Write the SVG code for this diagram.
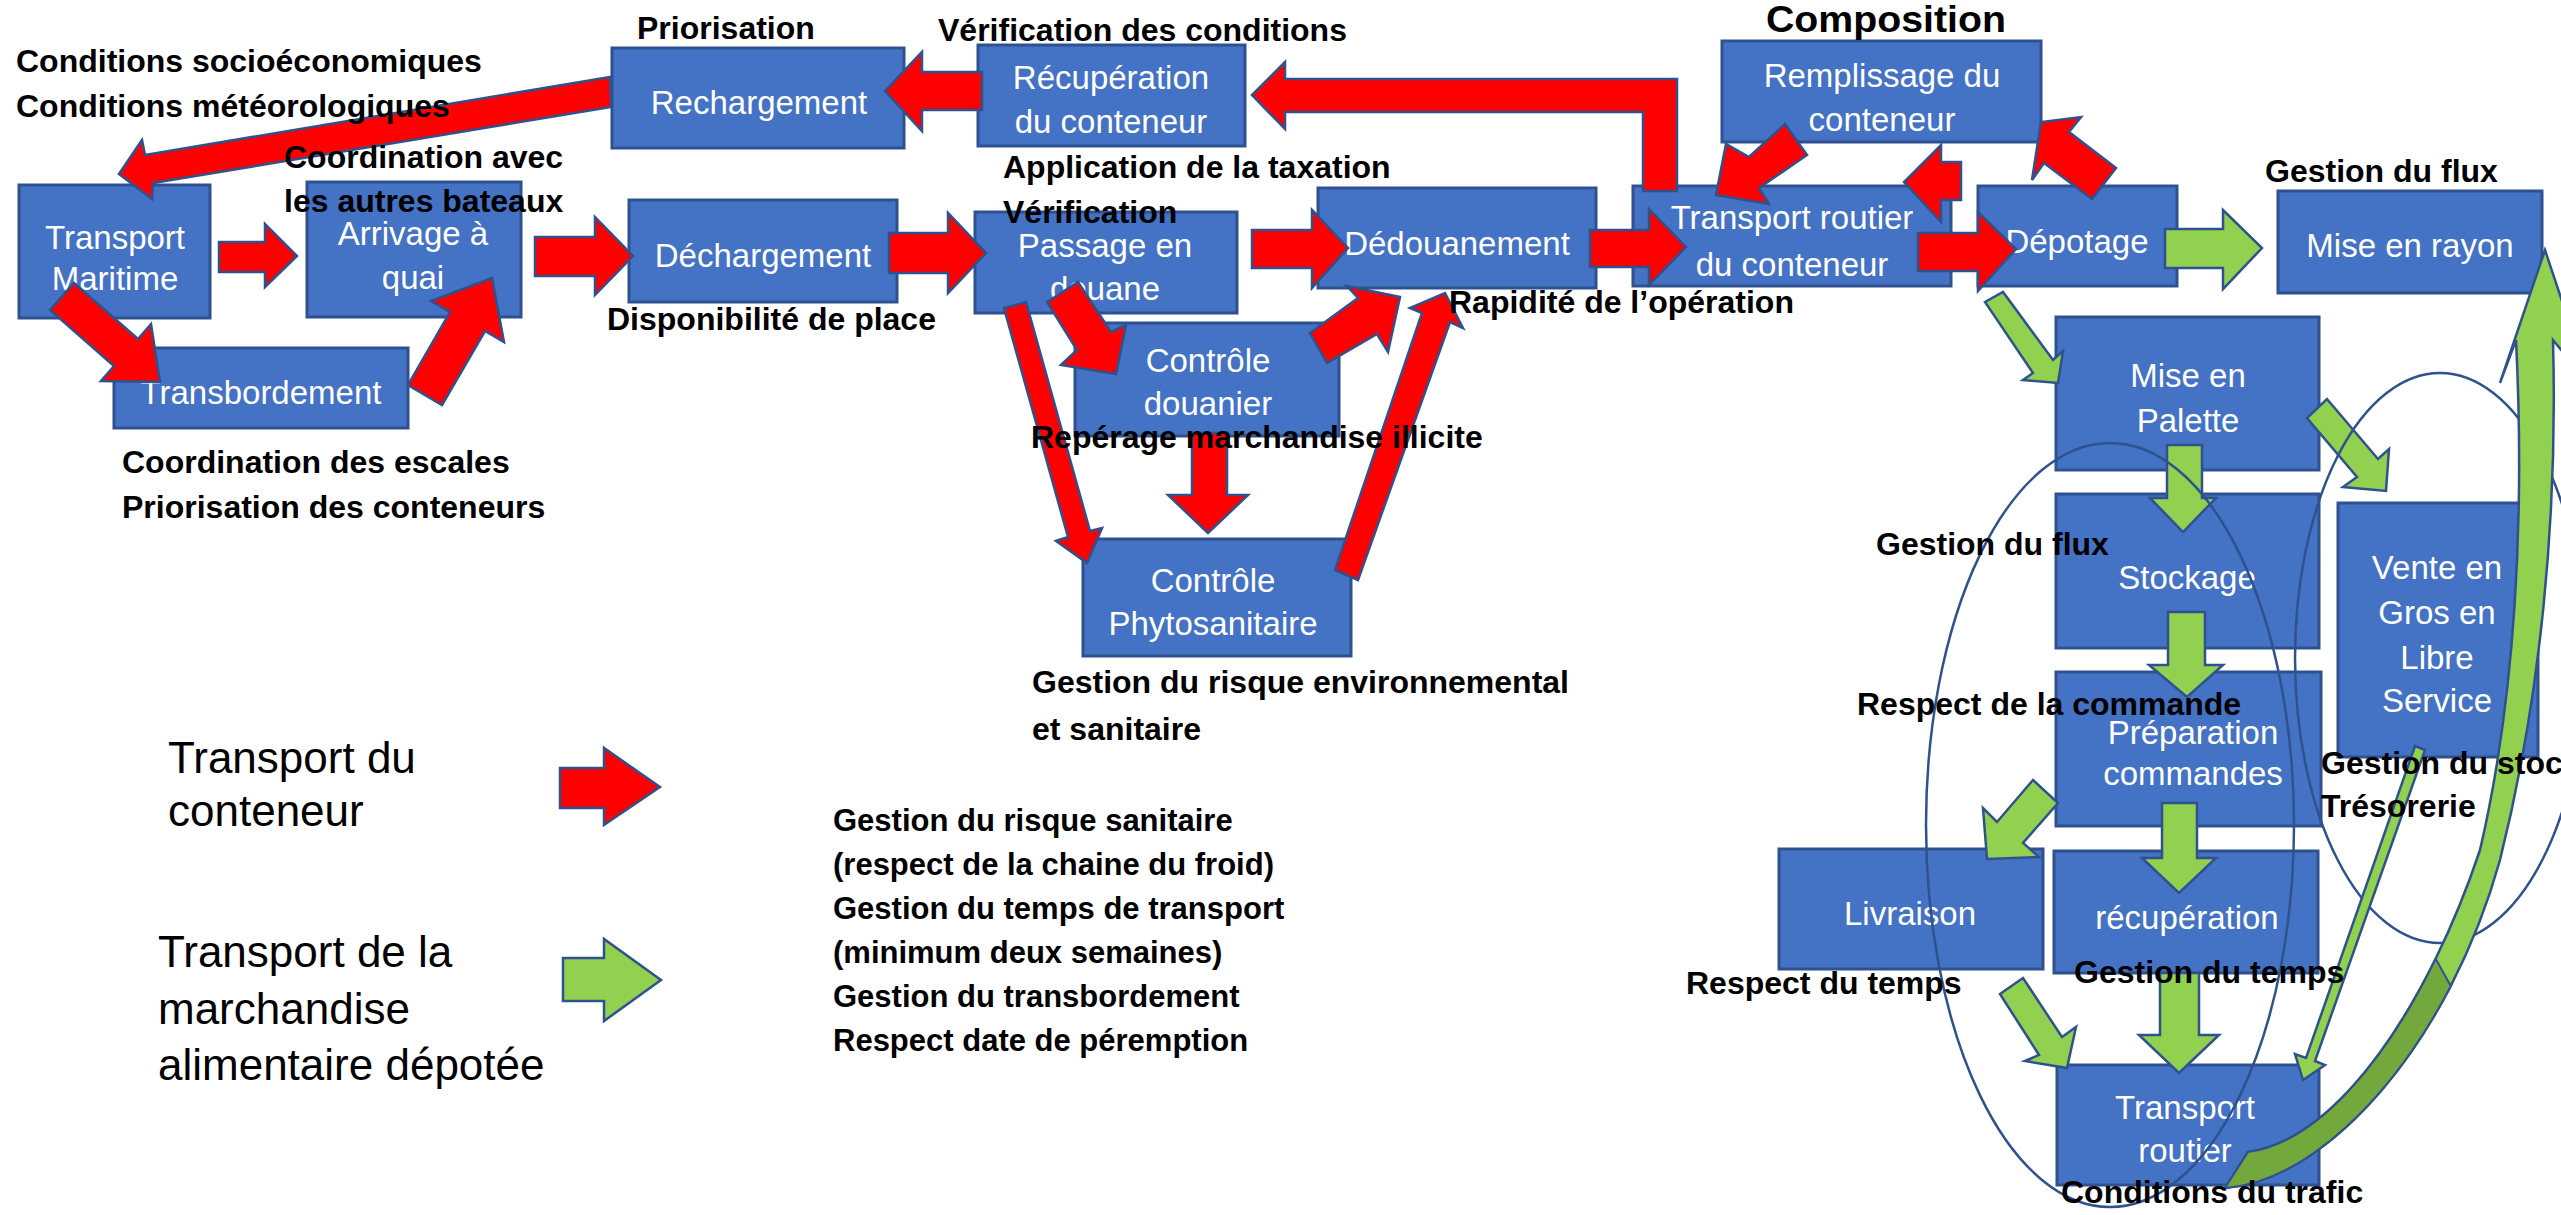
<svg xmlns="http://www.w3.org/2000/svg" width="2561" height="1215" viewBox="0 0 2561 1215">
<style>
.box{fill:#4472C4;stroke:#2F528F;stroke-width:3}
.bt{font-family:"Liberation Sans",Arial,sans-serif;font-size:33px;fill:#FFFFFF;text-anchor:middle;dominant-baseline:central}
.lbl{font-family:"Liberation Sans",Arial,sans-serif;font-size:32px;font-weight:bold;fill:#000000}
.lst{font-family:"Liberation Sans",Arial,sans-serif;font-size:31px;font-weight:bold;fill:#000000}
.leg{font-family:"Liberation Sans",Arial,sans-serif;font-size:44px;fill:#000000}
.red{fill:#FF0000;stroke:#2F528F;stroke-width:2.5}
.grn{fill:#92D050;stroke:#2F528F;stroke-width:2.5}
.dgrn{fill:#72A83C;stroke:#2F528F;stroke-width:2}
.ell{fill:none;stroke:#2F528F;stroke-width:2.5}
</style>
<rect width="2561" height="1215" fill="#FFFFFF"/>
<g id="nodes">
<g id="transport-maritime"><rect class="box" x="19" y="185" width="191" height="133"/><text class="bt" x="115" y="237">Transport</text><text class="bt" x="115" y="278">Maritime</text></g>
<g id="arrivage"><rect class="box" x="307" y="182" width="214" height="135"/><text class="bt" x="413" y="233">Arrivage à</text><text class="bt" x="413" y="277">quai</text></g>
<g id="transbordement"><rect class="box" x="114" y="348" width="294" height="80"/><text class="bt" x="261" y="392">Transbordement</text></g>
<g id="rechargement"><rect class="box" x="612" y="48" width="292" height="100"/><text class="bt" x="759" y="102">Rechargement</text></g>
<g id="recuperation-conteneur"><rect class="box" x="978" y="45" width="267" height="101"/><text class="bt" x="1111" y="77">Récupération</text><text class="bt" x="1111" y="121">du conteneur</text></g>
<g id="dechargement"><rect class="box" x="629" y="200" width="268" height="102"/><text class="bt" x="763" y="255">Déchargement</text></g>
<g id="passage-douane"><rect class="box" x="975" y="212" width="262" height="101"/><text class="bt" x="1105" y="245">Passage en</text><text class="bt" x="1105" y="288">douane</text></g>
<g id="controle-douanier"><rect class="box" x="1075" y="323" width="264" height="113"/><text class="bt" x="1208" y="360">Contrôle</text><text class="bt" x="1208" y="403">douanier</text></g>
<g id="controle-phyto"><rect class="box" x="1083" y="539" width="268" height="117"/><text class="bt" x="1213" y="580">Contrôle</text><text class="bt" x="1213" y="623">Phytosanitaire</text></g>
<g id="dedouanement"><rect class="box" x="1318" y="188" width="278" height="100"/><text class="bt" x="1457" y="243">Dédouanement</text></g>
<g id="remplissage"><rect class="box" x="1722" y="41" width="319" height="101"/><text class="bt" x="1882" y="75">Remplissage du</text><text class="bt" x="1882" y="119">conteneur</text></g>
<g id="transport-routier-conteneur"><rect class="box" x="1633" y="186" width="318" height="100"/><text class="bt" x="1792" y="217">Transport routier</text><text class="bt" x="1792" y="264">du conteneur</text></g>
<g id="depotage"><rect class="box" x="1978" y="186" width="199" height="100"/><text class="bt" x="2077" y="241">Dépotage</text></g>
<g id="mise-en-rayon"><rect class="box" x="2278" y="191" width="264" height="102"/><text class="bt" x="2410" y="245">Mise en rayon</text></g>
<g id="mise-en-palette"><rect class="box" x="2056" y="317" width="263" height="153"/><text class="bt" x="2188" y="375">Mise en</text><text class="bt" x="2188" y="420">Palette</text></g>
<g id="stockage"><rect class="box" x="2056" y="494" width="263" height="154"/><text class="bt" x="2187" y="577">Stockage</text></g>
<g id="vente-gros"><rect class="box" x="2338" y="503" width="200" height="254"/><text class="bt" x="2437" y="567">Vente en</text><text class="bt" x="2437" y="612">Gros en</text><text class="bt" x="2437" y="657">Libre</text><text class="bt" x="2437" y="700">Service</text></g>
<g id="preparation"><rect class="box" x="2056" y="672" width="265" height="154"/><text class="bt" x="2193" y="732">Préparation</text><text class="bt" x="2193" y="773">commandes</text></g>
<g id="livraison"><rect class="box" x="1779" y="849" width="264" height="120"/><text class="bt" x="1910" y="913">Livraison</text></g>
<g id="recuperation"><rect class="box" x="2054" y="851" width="264" height="122"/><text class="bt" x="2187" y="917">récupération</text></g>
<g id="transport-routier"><rect class="box" x="2057" y="1065" width="262" height="120"/><text class="bt" x="2185" y="1107">Transport</text><text class="bt" x="2185" y="1150">routier</text></g>
</g>
<g id="connectors">
<polygon class="red" points="219,242 265,242 265,224 297,256 265,287 265,272 219,272"/>
<polygon class="red" points="535,237 595,237 595,217 633,256 595,295 595,276 535,276"/>
<polygon class="red" points="889,233 948,233 948,213 986,253 948,293 948,273 889,273"/>
<polygon class="red" points="1252,230 1312,230 1312,210 1348,248 1312,288 1312,268 1252,268"/>
<polygon class="red" points="1590,230 1649,230 1649,209 1686,247 1649,285 1649,267 1590,267"/>
<polygon class="red" points="1918,233 1978,233 1978,212 2016,249 1978,291 1978,271 1918,271"/>
<polygon class="red" points="982,72 922,72 922,52 885,91 922,131 922,110 982,110"/>
<polygon class="red" points="1643,191 1643,112 1285,112 1285,129 1252,95 1285,62 1285,79 1677,79 1677,191"/>
<polygon class="red" points="610,77 145,155 142,140 119,174 152,199 153,183 611,107"/>
<polygon class="red" points="1047,302 1078,282 1111,332 1126,325 1116,374 1061,365 1077,350"/>
<polygon class="red" points="1004,308 1026,302 1090,531 1102,528 1087,563 1056,541 1068,537"/>
<polygon class="red" points="1192,433 1227,433 1227,495 1248,495 1208,533 1168,495 1192,495"/>
<polygon class="red" points="1310,333 1358,298 1347,286 1400,297 1388,352 1377,334 1327,363"/>
<polygon class="red" points="1335,570 1422,313 1410,308 1445,293 1463,328 1450,322 1358,580"/>
<polygon class="red" points="1961,162 1941,162 1941,145 1904,182 1941,222 1941,200 1961,200"/>
<polygon class="red" points="1785,124 1807,155 1759,188 1769,204 1716,195 1726,144 1749,157"/>
<polygon class="red" points="2092,199 2044,163 2032,180 2041,122 2081,117 2069,132 2116,168"/>
<polygon class="red" points="74,283 138,339 151,324 160,382 101,381 114,366 50,310"/>
<polygon class="red" points="442,405 485,331 504,342 492,278 431,301 450,312 408,385"/>
<polygon class="grn" points="2165,229 2223,229 2223,210 2262,248 2223,289 2223,268 2165,268"/>
<polygon class="grn" points="1985,302 2003,292 2053,360 2063,351 2058,383 2023,380 2033,373"/>
<polygon class="grn" points="2307,418 2327,399 2378,459 2389,449 2386,491 2343,487 2357,477"/>
<polygon class="grn" points="2167,445 2202,445 2202,498 2216,498 2183,532 2150,498 2167,498"/>
<polygon class="grn" points="2168,612 2205,612 2205,665 2223,665 2187,697 2149,665 2168,665"/>
<polygon class="grn" points="2162,803 2197,803 2197,858 2216,858 2179,893 2142,858 2162,858"/>
<polygon class="grn" points="2160,973 2199,973 2199,1035 2219,1035 2179,1073 2139,1035 2160,1035"/>
<polygon class="grn" points="2033,780 2058,803 2023,843 2039,857 1987,859 1983,808 1997,822"/>
<polygon class="grn" points="2000,994 2023,978 2062,1037 2076,1027 2067,1068 2025,1061 2039,1055"/>
<ellipse class="ell" cx="2110" cy="825" rx="184" ry="382"/>
<ellipse class="ell" cx="2440" cy="658" rx="145" ry="285"/>
<polygon class="grn" points="2425,750 2315,1061 2325,1065 2303,1080 2295,1054 2306,1058 2415,746"/>
<path class="grn" d="M2225,1188 C2330,1180 2450,1040 2500,860 C2540,700 2558,520 2553,340 L2590,385 L2545,250 L2500,383 L2516,340 C2525,520 2515,700 2480,850 C2430,1000 2340,1140 2248,1152 Z"/>
<path class="dgrn" d="M2225,1188 C2303.75,1182 2390.9,1101.25 2450.8,985.9 L2435.7,958.8 C2385.4,1062 2317,1143 2248,1152 Z"/>
</g>
<g id="labels">
<text class="lbl" x="16" y="72">Conditions socioéconomiques</text>
<text class="lbl" x="16" y="117">Conditions météorologiques</text>
<text class="lbl" x="637" y="39">Priorisation</text>
<text class="lbl" x="938" y="41">Vérification des conditions</text>
<text class="lbl" x="1766" y="32" style="font-size:36px" textLength="240" lengthAdjust="spacingAndGlyphs">Composition</text>
<text class="lbl" x="284" y="168">Coordination avec</text>
<text class="lbl" x="284" y="212">les autres bateaux</text>
<text class="lbl" x="1003" y="178">Application de la taxation</text>
<text class="lbl" x="1003" y="223">Vérification</text>
<text class="lbl" x="607" y="330">Disponibilité de place</text>
<text class="lbl" x="1449" y="313">Rapidité de l’opération</text>
<text class="lbl" x="1031" y="448">Repérage marchandise illicite</text>
<text class="lbl" x="1032" y="693">Gestion du risque environnemental</text>
<text class="lbl" x="1032" y="740">et sanitaire</text>
<text class="lbl" x="122" y="473">Coordination des escales</text>
<text class="lbl" x="122" y="518">Priorisation des conteneurs</text>
<text class="lbl" x="2265" y="182">Gestion du flux</text>
<text class="lbl" x="1876" y="555">Gestion du flux</text>
<text class="lbl" x="1857" y="715">Respect de la commande</text>
<text class="lbl" x="2321" y="774">Gestion du stock</text>
<text class="lbl" x="2321" y="817">Trésorerie</text>
<text class="lbl" x="1686" y="994">Respect du temps</text>
<text class="lbl" x="2074" y="983">Gestion du temps</text>
<text class="lbl" x="2061" y="1203">Conditions du trafic</text>
<text class="lst" x="833" y="831">Gestion du risque sanitaire</text>
<text class="lst" x="833" y="875">(respect de la chaine du froid)</text>
<text class="lst" x="833" y="919">Gestion du temps de transport</text>
<text class="lst" x="833" y="963">(minimum deux semaines)</text>
<text class="lst" x="833" y="1007">Gestion du transbordement</text>
<text class="lst" x="833" y="1051">Respect date de péremption</text>
</g>
<g id="legend">
<text class="leg" x="168" y="773">Transport du</text>
<text class="leg" x="168" y="826">conteneur</text>
<polygon class="red" points="560,768 604,768 604,748 660,787 604,825 604,808 560,808"/>
<text class="leg" x="158" y="967">Transport de la</text>
<text class="leg" x="158" y="1024">marchandise</text>
<text class="leg" x="158" y="1080">alimentaire dépotée</text>
<polygon class="grn" points="563,958 604,958 604,939 661,980 604,1021 604,1001 563,1001"/>
</g>
</svg>
